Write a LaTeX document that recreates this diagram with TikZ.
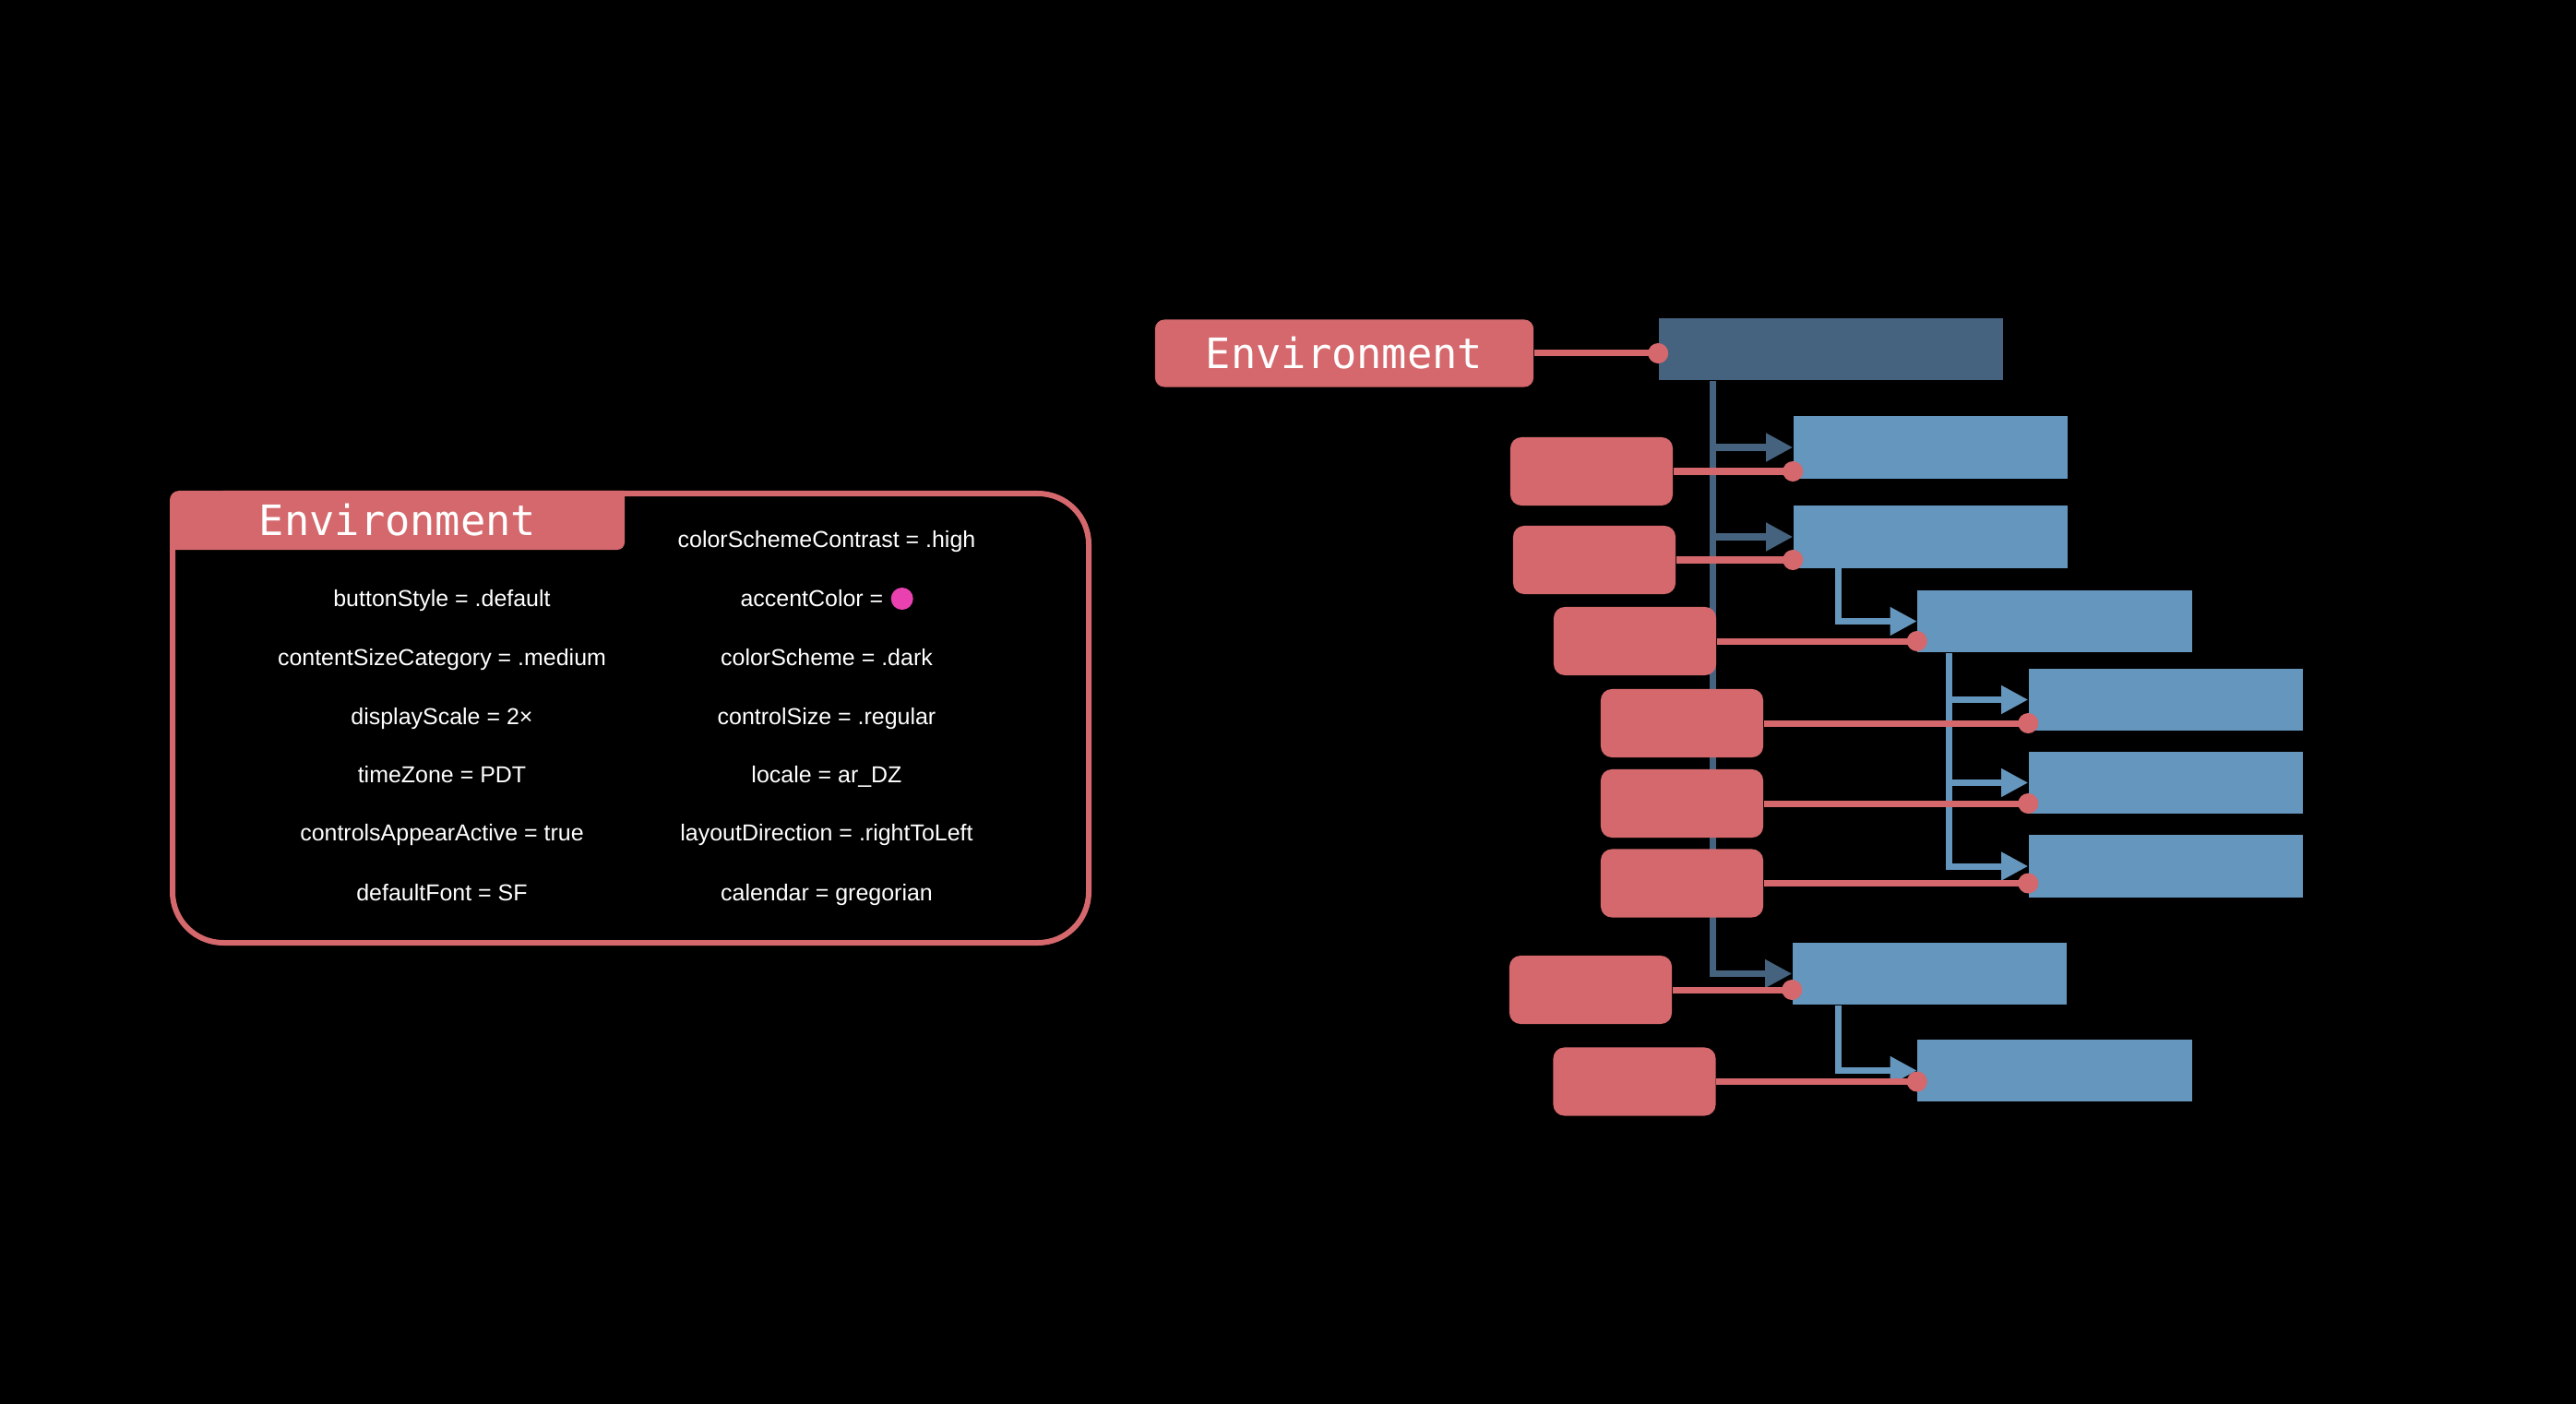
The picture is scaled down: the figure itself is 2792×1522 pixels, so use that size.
\documentclass[tikz,border=0pt]{standalone}
\usepackage{fontspec}
\usetikzlibrary{arrows.meta,positioning}
\newfontfamily\uifont{Liberation Sans}
\newfontfamily\codefont{DejaVu Sans Mono}
\definecolor{envred}{RGB}{212,104,108}
\definecolor{viewdark}{RGB}{69,99,127}
\definecolor{viewblue}{RGB}{101,150,189}
\definecolor{accentpink}{RGB}{233,65,175}

\begin{document}
\begin{tikzpicture}[x=0.01cm, y=-0.01cm,
		envbox/.style={rectangle, rounded corners=0.1cm, fill=envred, text=white, minimum width=4.1cm, minimum height=0.73cm, inner sep=0, font=\codefont\fontsize{12.9}{15}\selectfont},
		modbox/.style={rectangle, rounded corners=0.12cm, fill=envred, minimum width=1.76cm, minimum height=0.74cm, inner sep=0},
		viewbox/.style={rectangle, fill=viewblue, minimum width=2.97cm, minimum height=0.67cm, inner sep=0},
		item/.style={text=white, font=\uifont\fontsize{7.1}{8.5}\selectfont, text height=5.1pt, text depth=0pt, inner sep=0},
		wire/.style={draw=envred, line width=0.07cm},
		dot/.style={circle, fill=envred, minimum size=0.22cm, inner sep=0},
		flow/.style={line width=0.07cm, -{Triangle[length=0.29cm, width=0.29cm]}}]
				\fill[black] (0,0) rectangle (2792,1522);
				\draw[envred, line width=0.06cm, rounded corners=0.55cm] (187,535) rectangle (1180,1022);
				\fill[envred] (184,596) -- (184,542) arc[start angle=180, end angle=270, radius=10] -- (677,532) -- (677,588) arc[start angle=0, end angle=90, radius=8] -- cycle;
				\node[text=white, inner sep=0, font=\codefont\fontsize{12.9}{15}\selectfont] (tab) at (431, 564) {Environment};
				\node[item] (buttonStyle) at (479, 649) {buttonStyle = .default};
				\node[item] (contentSize) at (479, 713) {contentSizeCategory = .medium};
				\node[item] (displayScale) at (479, 777) {displayScale = 2×};
				\node[item] (timeZone) at (479, 840) {timeZone = PDT};
				\node[item] (appearActive) at (479, 903) {controlsAppearActive = true};
				\node[item] (defaultFont) at (479, 968) {defaultFont = SF};
				\node[item] (contrast) at (896, 585) {colorSchemeContrast = .high};
				\node[item, anchor=east] (accent) at (958, 649) {accentColor =};
				\node[circle, fill=accentpink, minimum size=0.24cm, inner sep=0, right=0.07cm of accent] (accentDot) {};
				\node[item] (colorScheme) at (896, 713) {colorScheme = .dark};
				\node[item] (controlSize) at (896, 777) {controlSize = .regular};
				\node[item] (locale) at (896, 840) {locale = ar\_DZ};
				\node[item] (direction) at (896, 903) {layoutDirection = .rightToLeft};
				\node[item] (calendar) at (896, 968) {calendar = gregorian};
				\node[viewbox, fill=viewdark, minimum width=3.73cm] (B0) at (1984.5, 378.5) {};
				\node[viewbox] (B1) at (2092.5, 485) {};
				\node[viewbox] (B2) at (2092.5, 582) {};
				\node[viewbox] (B3) at (2227, 673.5) {};
				\node[viewbox] (B4) at (2347.5, 758.5) {};
				\node[viewbox] (B5) at (2347.5, 848.5) {};
				\node[viewbox] (B6) at (2347.5, 939) {};
				\node[viewbox] (B7) at (2091.5, 1055.5) {};
				\node[viewbox] (B8) at (2227, 1160.5) {};
				\coordinate (t0) at ([xshift=0.59cm]B0.south west);
				\coordinate (t2) at ([xshift=0.49cm]B2.south west);
				\coordinate (t3) at ([xshift=0.35cm]B3.south west);
				\coordinate (t7) at ([xshift=0.5cm]B7.south west);
				\draw[flow, viewdark] (t0) |- (B7.west);
				\draw[flow, viewdark] (t0 |- B1.west) -- (B1.west);
				\draw[flow, viewdark] (t0 |- B2.west) -- (B2.west);
				\draw[flow, viewblue] (t2) |- (B3.west);
				\draw[flow, viewblue] (t3) |- (B6.west);
				\draw[flow, viewblue] (t3 |- B4.west) -- (B4.west);
				\draw[flow, viewblue] (t3 |- B5.west) -- (B5.west);
				\draw[flow, viewblue] (t7) |- (B8.west);
				\node[envbox] (env) at (1457, 383) {Environment};
				\node[modbox] (P1) at (1725, 511) {};
				\node[modbox] (P2) at (1728, 607) {};
				\node[modbox] (P3) at (1772, 695) {};
				\node[modbox] (P4) at (1823, 784) {};
				\node[modbox] (P5) at (1823, 871) {};
				\node[modbox] (P6) at (1823, 957.5) {};
				\node[modbox] (P7) at (1724, 1073) {};
				\node[modbox] (P8) at (1771.5, 1172.5) {};
				\draw[wire] (env.east) -- (env.east -| B0.west) node[dot] {};
				\draw[wire] (P1.east) -- (P1.east -| B1.west) node[dot] {};
				\draw[wire] (P2.east) -- (P2.east -| B2.west) node[dot] {};
				\draw[wire] (P3.east) -- (P3.east -| B3.west) node[dot] {};
				\draw[wire] (P4.east) -- (P4.east -| B4.west) node[dot] {};
				\draw[wire] (P5.east) -- (P5.east -| B5.west) node[dot] {};
				\draw[wire] (P6.east) -- (P6.east -| B6.west) node[dot] {};
				\draw[wire] (P7.east) -- (P7.east -| B7.west) node[dot] {};
				\draw[wire] (P8.east) -- (P8.east -| B8.west) node[dot] {};
			\end{tikzpicture}
\end{document}
